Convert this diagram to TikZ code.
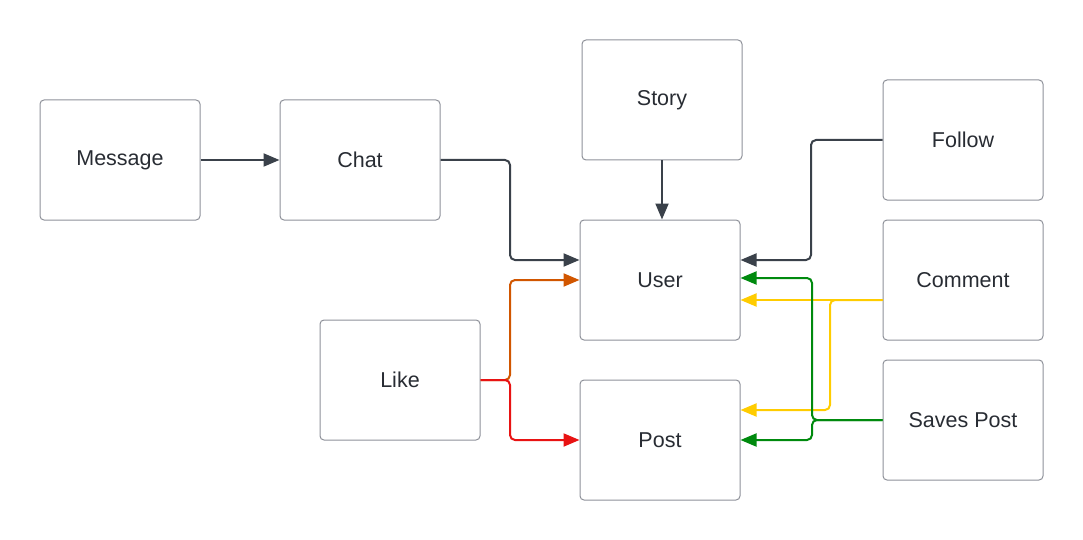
\documentclass[tikz,border=0pt]{standalone}
\usepackage{fontspec}
\setmainfont{Liberation Sans}
\usetikzlibrary{arrows.meta}
\definecolor{boxline}{HTML}{8E9199}
\definecolor{txt}{HTML}{282C33}
\definecolor{dark}{HTML}{3A414A}
\definecolor{gr}{HTML}{008A0E}
\definecolor{ye}{HTML}{FFCC00}
\definecolor{orng}{HTML}{D15600}
\definecolor{rd}{HTML}{E81313}
\tikzset{
  box/.style={draw=boxline, line width=1pt, rounded corners=4pt, minimum width=160pt, minimum height=120pt, inner sep=0pt, text=txt, font=\fontsize{21.5}{24}\selectfont},
  conn/.style={line width=2pt, rounded corners=5pt, -{Triangle[length=16pt,width=13pt]}},
}
\begin{document}
\begin{tikzpicture}[x=1pt,y=-1pt]
\useasboundingbox (0,0) rectangle (1083,540);
\node[box] (message) at (120,160) {Message};
\node[box] (chat) at (360,160) {Chat};
\node[box] (story) at (662,100) {Story};
\node[box] (follow) at (963,140) {Follow};
\node[box] (user) at (660,280) {User};
\node[box] (comment) at (963,280) {Comment};
\node[box] (like) at (400,380) {Like};
\node[box] (post) at (660,440) {Post};
\node[box] (saves) at (963,420) {Saves Post};
\draw[conn, dark] (message.east) -- (chat.west);
\draw[conn, dark] (chat.east) -- (510,160) |- ([yshift=20pt]user.west);
\draw[conn, dark] (story.south) -- (story.south |- user.north);
\draw[conn, dark] (follow.west) -- (811,140) |- ([yshift=20pt]user.east);
\draw[conn, orng] (like.east) -- (510,380) |- (user.west);
\draw[conn, rd] (like.east) -- (510,380) |- (post.west);
\draw[conn, ye] ([yshift=-20pt]comment.west) -- ([yshift=-20pt]user.east);
\draw[conn, ye] ([yshift=-20pt]comment.west) -- (830,300) |- ([yshift=30pt]post.east);
\draw[conn, gr] (saves.west) -- (812,420) |- ([yshift=2pt]user.east);
\draw[conn, gr] (saves.west) -- (812,420) |- (post.east);
\end{tikzpicture}
\end{document}
